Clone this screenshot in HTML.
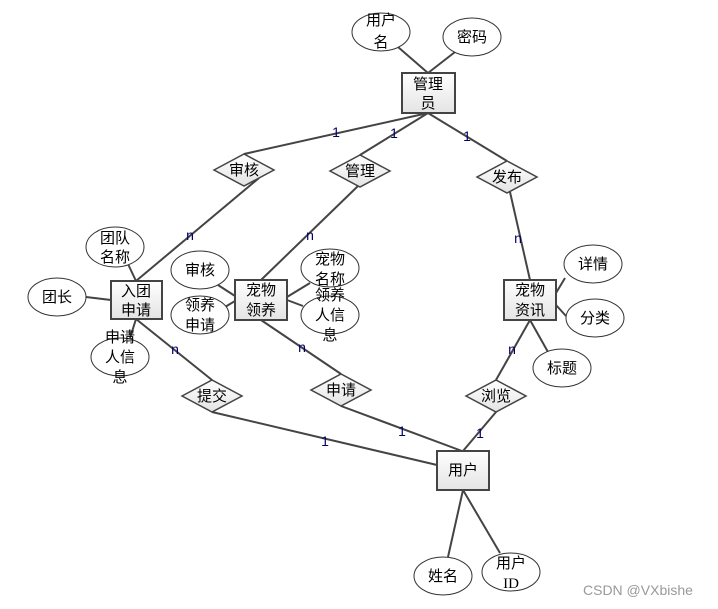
<!DOCTYPE html>
<html><head><meta charset="utf-8"><style>
html,body{margin:0;padding:0;background:#fff;}
svg text{font-family:"Liberation Sans","Noto Sans CJK SC",sans-serif;font-size:15px;fill:#000;}
.l{stroke:#444;stroke-width:2;fill:none;}
.e{fill:#fff;stroke:#333;stroke-width:1;}
.b{fill:url(#g);stroke:#444;stroke-width:2;}
.d{fill:url(#g);stroke:#444;stroke-width:1.5;}
.c{fill:#00006a;font-size:14px;}
</style></head><body>
<svg width="718" height="604" viewBox="0 0 718 604" xmlns="http://www.w3.org/2000/svg">
<defs><linearGradient id="g" x1="0" y1="0" x2="0" y2="1"><stop offset="0" stop-color="#fff"/><stop offset="1" stop-color="#e4e4e4"/></linearGradient></defs>
<g class="l">
<line x1="428" y1="113" x2="244" y2="154"/><line x1="428" y1="113" x2="360" y2="155"/><line x1="428" y1="113" x2="507" y2="161"/>
<line x1="259" y1="178" x2="136" y2="281"/><line x1="358" y1="186" x2="261" y2="280"/><line x1="510" y1="192" x2="530" y2="280"/>
<line x1="136" y1="319" x2="212" y2="380"/><line x1="261" y1="320" x2="341" y2="374"/><line x1="530" y1="320" x2="496" y2="380"/>
<line x1="212" y1="412" x2="437" y2="465"/><line x1="341" y1="406" x2="462" y2="451"/><line x1="496" y1="412" x2="463" y2="451"/>
<line x1="463" y1="490" x2="448" y2="557"/><line x1="463" y1="490" x2="500" y2="553"/>
<line x1="398" y1="47" x2="428" y2="73"/><line x1="455" y1="52" x2="428" y2="73"/>
<line x1="128" y1="264" x2="136" y2="281"/><line x1="86" y1="297" x2="111" y2="300"/><line x1="130" y1="338" x2="136" y2="319"/>
<line x1="218" y1="285" x2="235" y2="296"/><line x1="225" y1="307" x2="235" y2="301"/>
<line x1="310" y1="283" x2="287" y2="297"/><line x1="303" y1="306" x2="287" y2="300"/>
<line x1="565" y1="278" x2="556" y2="293"/><line x1="566" y1="316" x2="556" y2="305"/><line x1="548" y1="352" x2="530" y2="320"/>
</g>
<ellipse class="e" cx="381" cy="32" rx="29" ry="19"/><ellipse class="e" cx="472" cy="37" rx="29" ry="19"/>
<ellipse class="e" cx="115" cy="247" rx="29" ry="20"/><ellipse class="e" cx="57" cy="297" rx="29" ry="19"/>
<ellipse class="e" cx="120" cy="357" rx="29" ry="19"/><ellipse class="e" cx="200" cy="270" rx="29" ry="19"/>
<ellipse class="e" cx="200" cy="315" rx="29" ry="19"/><ellipse class="e" cx="330" cy="268" rx="29" ry="19"/>
<ellipse class="e" cx="330" cy="315" rx="29" ry="19"/><ellipse class="e" cx="593" cy="264" rx="29" ry="19"/>
<ellipse class="e" cx="595" cy="318" rx="29" ry="19"/><ellipse class="e" cx="562" cy="368" rx="29" ry="19"/>
<ellipse class="e" cx="443" cy="576" rx="29" ry="19"/><ellipse class="e" cx="511" cy="572" rx="29" ry="19"/>
<rect class="b" x="402" y="73" width="53" height="40"/><rect class="b" x="111" y="281" width="51" height="38"/>
<rect class="b" x="235" y="280" width="52" height="40"/><rect class="b" x="504" y="280" width="52" height="40"/>
<rect class="b" x="437" y="451" width="52" height="39"/>
<polygon class="d" points="214,170 244,154 274,170 244,186"/><polygon class="d" points="330,171 360,155 390,171 360,187"/>
<polygon class="d" points="477,177 507,161 537,177 507,193"/><polygon class="d" points="182,396 212,380 242,396 212,412"/>
<polygon class="d" points="311,390 341,374 371,390 341,406"/><polygon class="d" points="466,396 496,380 526,396 496,412"/>
<g text-anchor="middle">
<text x="381" y="25">用户</text><text x="381" y="47">名</text><text x="472" y="42">密码</text>
<text x="428" y="89">管理</text><text x="428" y="108">员</text>
<text x="115" y="243">团队</text><text x="115" y="262">名称</text><text x="57" y="302">团长</text>
<text x="120" y="342">申请</text><text x="120" y="362">人信</text><text x="120" y="382">息</text>
<text x="136" y="296">入团</text><text x="136" y="315">申请</text>
<text x="200" y="275">审核</text><text x="200" y="310">领养</text><text x="200" y="330">申请</text>
<text x="261" y="295">宠物</text><text x="261" y="315">领养</text>
<text x="330" y="264">宠物</text><text x="330" y="284">名称</text>
<text x="330" y="300">领养</text><text x="330" y="320">人信</text><text x="330" y="340">息</text>
<text x="530" y="295">宠物</text><text x="530" y="315">资讯</text>
<text x="593" y="269">详情</text><text x="595" y="323">分类</text><text x="562" y="373">标题</text>
<text x="463" y="475">用户</text><text x="443" y="581">姓名</text><text x="511" y="568">用户</text><text x="511" y="588" style="font-family:'Liberation Serif',serif">ID</text>
<text x="244" y="175">审核</text><text x="360" y="176">管理</text><text x="507" y="182">发布</text>
<text x="212" y="401">提交</text><text x="341" y="395">申请</text><text x="496" y="401">浏览</text>
<text class="c" x="336" y="137">1</text><text class="c" x="394" y="138">1</text><text class="c" x="467" y="141">1</text>
<text class="c" x="190" y="240">n</text><text class="c" x="310" y="240">n</text><text class="c" x="518" y="243">n</text>
<text class="c" x="175" y="354">n</text><text class="c" x="302" y="352">n</text><text class="c" x="512" y="354">n</text>
<text class="c" x="325" y="446">1</text><text class="c" x="402" y="436">1</text><text class="c" x="480" y="438">1</text>
</g>
<text x="583" y="595" style="fill:#999;font-size:14px">CSDN @VXbishe</text>
</svg>
</body></html>
